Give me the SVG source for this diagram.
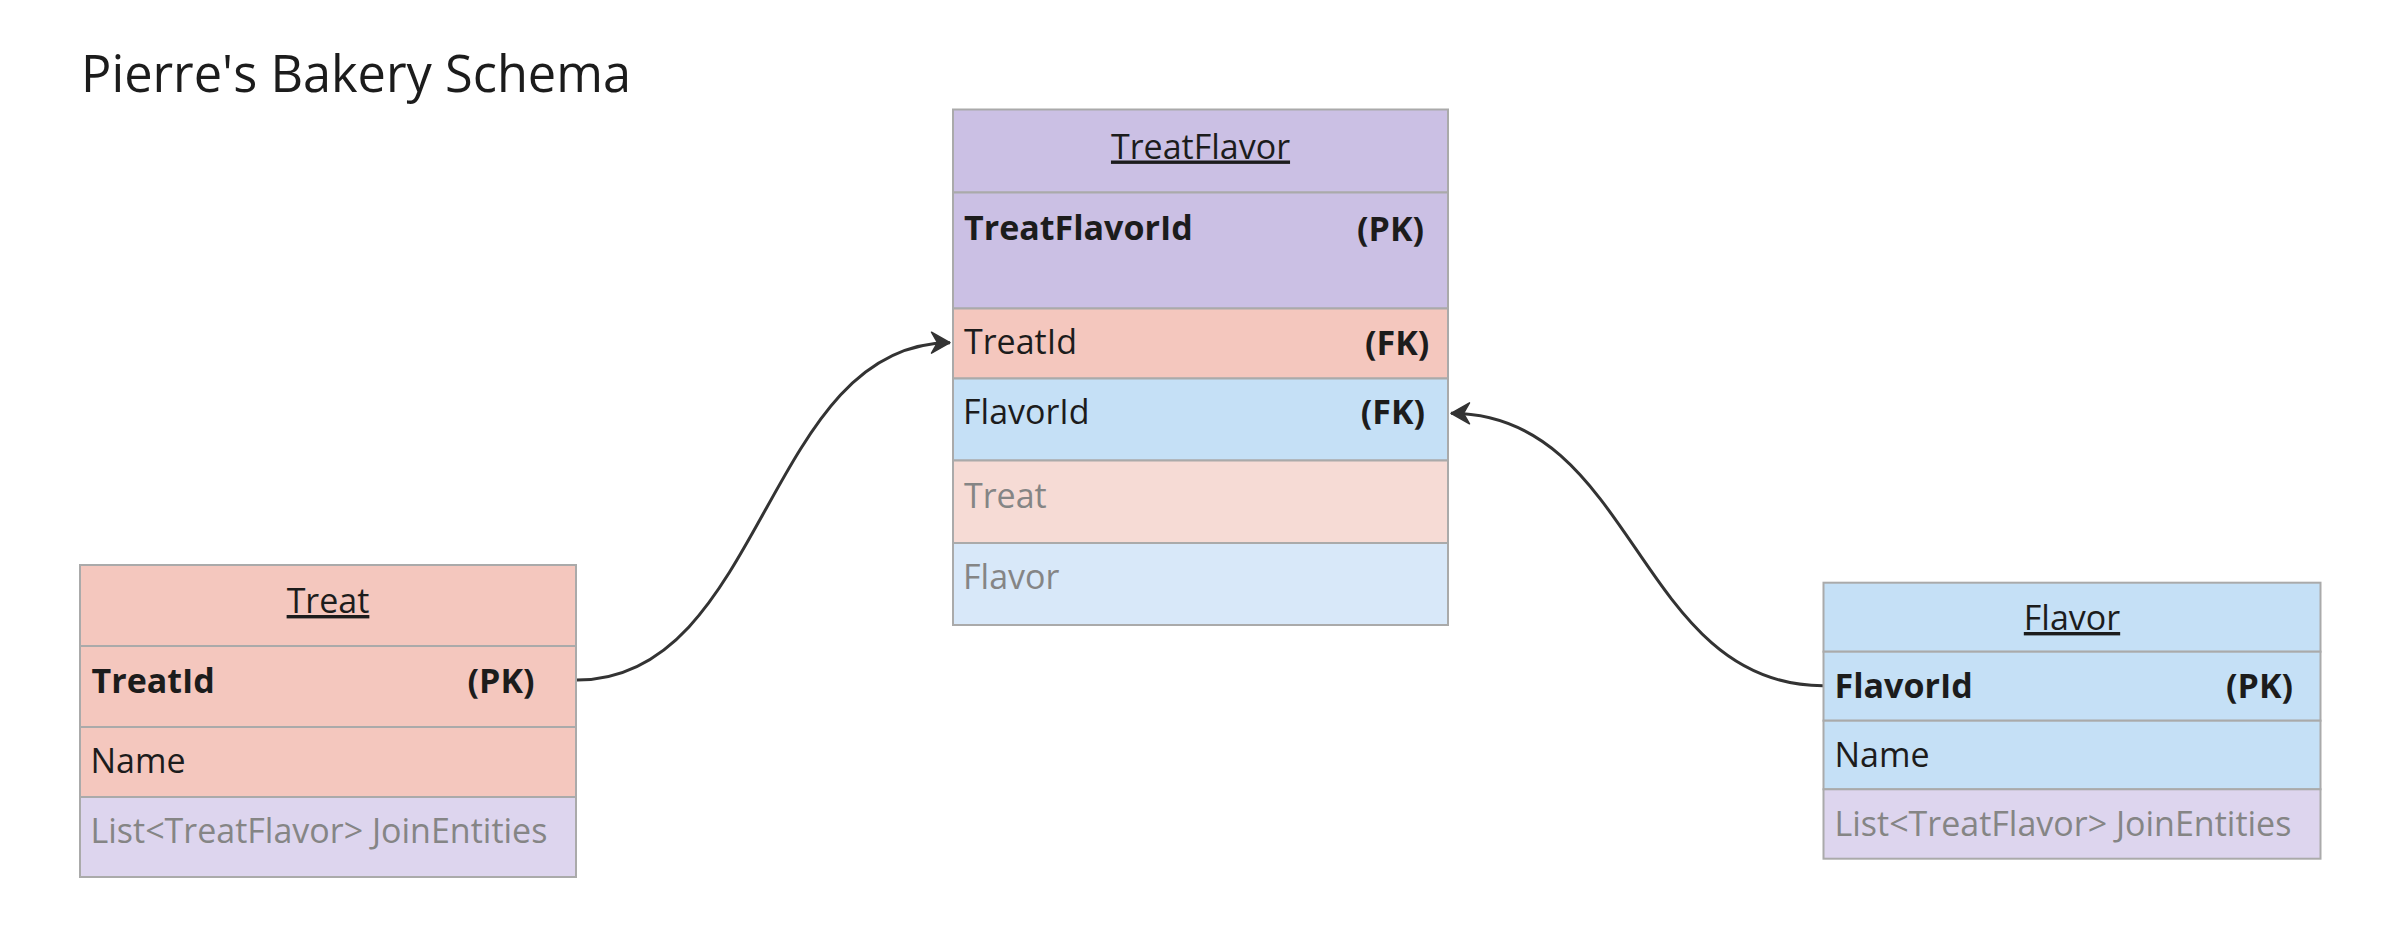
<svg xmlns="http://www.w3.org/2000/svg" width="2384" height="942" viewBox="0 0 2384 942">
<style>
text{font-family:"Open Sans","Noto Sans","Liberation Sans",sans-serif;font-size:34px;fill:#1c1c1c}
.t{text-decoration:underline}
.b{font-weight:bold}
.g{fill:#858585}
.h{font-size:50.5px}
rect{stroke:#aaaaaa;stroke-width:2}
.sal{fill:#f4c7be}
.pur{fill:#cbc0e4}
.blu{fill:#c5e0f6}
.lpk{fill:#f6dbd5}
.lbl{fill:#d8e8f9}
.lav{fill:#ddd5ee}
.c{fill:none;stroke:#333333;stroke-width:3}
</style>
<defs>
<marker id="arr" markerUnits="userSpaceOnUse" markerWidth="26" markerHeight="26" viewBox="-22 -13 24 26" refX="0" refY="0" orient="auto">
<path d="M0,0 L-18.5,-10.5 L-12.5,0 L-18.5,10.5 Z" fill="#333333" stroke="#333333" stroke-width="1.5" stroke-linejoin="round"/>
</marker>
</defs>
<text class="h" x="81" y="92">Pierre's Bakery Schema</text>
<g id="connectors">
<path class="c" d="M577,680 C765,680 765,342.7 950,342.7" marker-end="url(#arr)"/>
<path class="c" d="M1823,685.7 C1636,685.7 1636,413.3 1451,413.3" marker-end="url(#arr)"/>
</g>
<g id="treat">
<rect class="sal" x="80" y="565" width="496" height="81"/>
<rect class="sal" x="80" y="646" width="496" height="81"/>
<rect class="sal" x="80" y="727" width="496" height="70"/>
<rect class="lav" x="80" y="797" width="496" height="80"/>
<text class="t" x="328" y="613" text-anchor="middle">Treat</text>
<text class="b" x="91.5" y="693">TreatId</text>
<text class="b" x="534.5" y="693" text-anchor="end">(PK)</text>
<text x="90.5" y="773">Name</text>
<text class="g" x="90.5" y="843">List&lt;TreatFlavor&gt; JoinEntities</text>
</g>
<g id="treatflavor">
<rect class="pur" x="953" y="109.5" width="495" height="83"/>
<rect class="pur" x="953" y="192.5" width="495" height="116"/>
<rect class="sal" x="953" y="308.5" width="495" height="70"/>
<rect class="blu" x="953" y="378.5" width="495" height="82"/>
<rect class="lpk" x="953" y="460.5" width="495" height="82.5"/>
<rect class="lbl" x="953" y="543" width="495" height="82"/>
<text class="t" x="1200.5" y="158.5" text-anchor="middle">TreatFlavor</text>
<text class="b" x="964" y="240">TreatFlavorId</text>
<text class="b" x="1424" y="241" text-anchor="end">(PK)</text>
<text x="964" y="354">TreatId</text>
<text class="b" x="1429.3" y="355" text-anchor="end">(FK)</text>
<text x="963" y="424">FlavorId</text>
<text class="b" x="1425" y="423.5" text-anchor="end">(FK)</text>
<text class="g" x="964" y="508">Treat</text>
<text class="g" x="963" y="589">Flavor</text>
</g>
<g id="flavor">
<rect class="blu" x="1823.5" y="582.7" width="497" height="69"/>
<rect class="blu" x="1823.5" y="651.7" width="497" height="69"/>
<rect class="blu" x="1823.5" y="720.7" width="497" height="68.6"/>
<rect class="lav" x="1823.5" y="789.3" width="497" height="69.4"/>
<text class="t" x="2072" y="630" text-anchor="middle">Flavor</text>
<text class="b" x="1834.5" y="698">FlavorId</text>
<text class="b" x="2293" y="698" text-anchor="end">(PK)</text>
<text x="1834.5" y="767">Name</text>
<text class="g" x="1834.5" y="836">List&lt;TreatFlavor&gt; JoinEntities</text>
</g>
</svg>
